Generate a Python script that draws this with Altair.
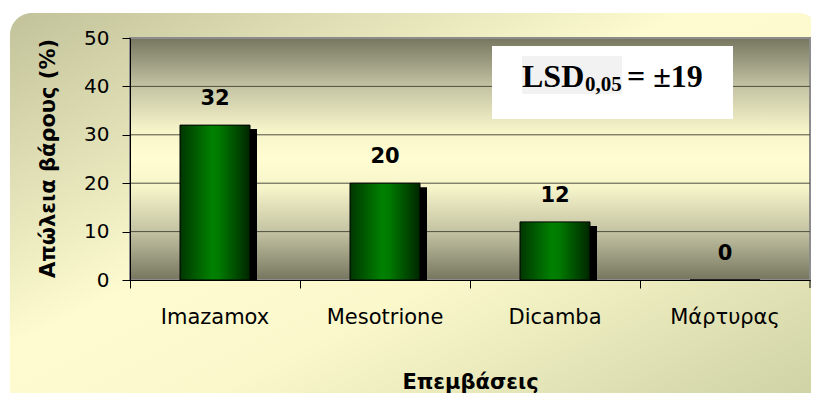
import altair as alt
import pandas as pd

# ---- data -------------------------------------------------------------
categories = ["Imazamox", "Mesotrione", "Dicamba", "Μάρτυρας"]
values = [32, 20, 12, 0]
grid_values = [10, 20, 30, 40]
y_ticks = [0, 10, 20, 30, 40, 50]
y_title = "Απώλεια βάρους (%)"
x_title = "Επεμβάσεις"
lsd_main = "LSD"
lsd_sub = "0,05"
lsd_value = "= ±19"

W, H = 680, 242

df = pd.DataFrame({"cat": categories, "v": values})
grid_df = pd.DataFrame({"v": grid_values})
one = pd.DataFrame({"d": [0]})

SANS = "DejaVu Sans"
SERIF = "Liberation Serif"


def grad(stops, x1=0, y1=0, x2=1, y2=0):
    return alt.LinearGradient(
        gradient="linear",
        stops=[alt.GradientStop(offset=o, color=c) for o, c in stops],
        x1=x1, y1=y1, x2=x2, y2=y2,
    )


x_axis = alt.Axis(
    title=x_title, labelAngle=0, bandPosition=0, tickSize=8,
    domainColor="black", tickColor="black", domainWidth=1, tickWidth=1,
    labelPadding=18, labelBaseline="top", labelFont=SANS, labelFontSize=21,
    labelColor="black", titleFont=SANS, titleFontSize=21, titleFontWeight="bold",
    titleColor="black", titleX=W / 2, titleY=108, titleAlign="center",
    titleBaseline="alphabetic", zindex=1,
)
y_axis = alt.Axis(
    title=y_title, values=y_ticks, grid=False, domainColor="black",
    tickColor="black", tickSize=8, labelPadding=13, labelFont=SANS,
    labelFontSize=20, labelColor="black", titleFont=SANS, titleFontSize=21,
    titleFontWeight="bold", titleColor="black", titleAngle=270,
    titleX=-76, titleY=H / 2 - 1, titleAlign="center", titleBaseline="alphabetic",
    zindex=1,
)
x_main = alt.X("cat:N", sort=categories,
               scale=alt.Scale(paddingInner=0, paddingOuter=0), axis=x_axis)
y_main = alt.Y("v:Q", scale=alt.Scale(domain=[0, 50], nice=False, zero=True),
               axis=y_axis)

outer_bg = alt.Chart(one).mark_rect(
    cornerRadius=22,
    fill=grad([(0, "#c2c29a"), (0.42, "#fdfbcf"), (0.6, "#fbf9cc"), (1, "#ccd0a2")],
              x1=0, y1=0, x2=1, y2=1),
).encode(x=alt.value(-120), x2=alt.value(690), y=alt.value(-25), y2=alt.value(372))

plot_bg = alt.Chart(one).mark_rect(
    stroke="#8c8c8c", strokeWidth=2,
    fill=grad([(0, "#767660"), (0.2, "#c4c3a3"), (0.38, "#f6f4c9"), (0.5, "#fffdd1"),
               (0.62, "#f6f4c9"), (0.8, "#c4c3a3"), (1, "#767660")],
              x1=0, y1=0, x2=0, y2=1),
).encode(x=alt.value(0), x2=alt.value(W), y=alt.value(0), y2=alt.value(H))

grid = alt.Chart(grid_df).mark_rule(color="#4f4f40", strokeWidth=1).encode(
    y=y_main, x=alt.value(0), x2=alt.value(W)
)

lsd_box = alt.Chart(one).mark_rect(fill="white").encode(
    x=alt.value(362), x2=alt.value(603), y=alt.value(8), y2=alt.value(81)
)
lsd_hl = alt.Chart(one).mark_rect(fill="#f2f2f2").encode(
    x=alt.value(392), x2=alt.value(492), y=alt.value(18), y2=alt.value(56)
)
lsd_t1 = alt.Chart(one).mark_text(
    text=lsd_main, font=SERIF, fontSize=32, fontWeight="bold", align="left",
    baseline="alphabetic", color="black",
).encode(x=alt.value(392), y=alt.value(49))
lsd_t2 = alt.Chart(one).mark_text(
    text=lsd_sub, font=SERIF, fontSize=21, fontWeight="bold", align="left",
    baseline="alphabetic", color="black",
).encode(x=alt.value(455), y=alt.value(53))
lsd_t3 = alt.Chart(one).mark_text(
    text=lsd_value, font=SERIF, fontSize=32, fontWeight="bold", align="left",
    baseline="alphabetic", color="black",
).encode(x=alt.value(497), y=alt.value(49))

shadow = alt.Chart(df).mark_bar(
    width=70, color="black", xOffset=7, yOffset=4, clip=True
).encode(x=x_main, y=y_main)

bars = alt.Chart(df).mark_bar(
    width=70, stroke="black", strokeWidth=1,
    fill=grad([(0, "#003600"), (0.45, "#008000"), (0.55, "#007c00"), (1, "#002600")]),
).encode(x=x_main, y=y_main)

labels = alt.Chart(df).mark_text(
    font=SANS, fontSize=21, fontWeight="bold", color="black",
    baseline="alphabetic", dy=-20,
).encode(x=x_main, y=y_main, text=alt.Text("v:Q", format="d"))

end_tick = alt.Chart(one).mark_rule(color="black").encode(
    x=alt.value(W), y=alt.value(H), y2=alt.value(H + 8)
)

chart = alt.layer(
    outer_bg, plot_bg, grid, lsd_box, lsd_hl, shadow, bars, labels,
    lsd_t1, lsd_t2, lsd_t3, end_tick,
).properties(
    width=W, height=H,
    autosize=alt.AutoSizeParams(type="none"),
    padding={"left": 122, "top": 30, "right": 1, "bottom": 113},
    background="white",
).configure_view(stroke=None)

chart.save("out.html", embed_options={"renderer": "svg", "actions": False})
